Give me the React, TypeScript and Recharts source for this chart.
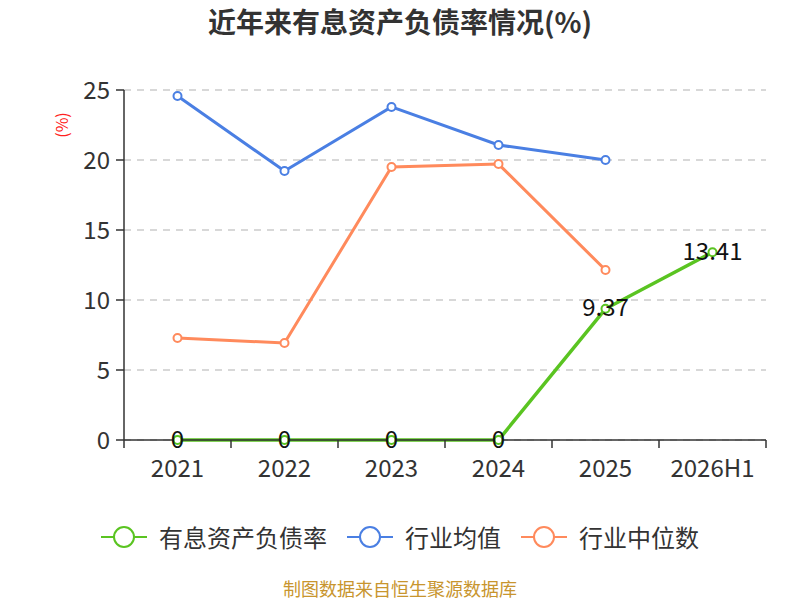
import React from "react";
import { LineChart, Line, XAxis, YAxis, CartesianGrid, LabelList } from "recharts";

const categories = ["2021", "2022", "2023", "2024", "2025", "2026H1"];
const debtRatio = [0, 0, 0, 0, 9.37, 13.41];
const industryAvg = [24.57, 19.21, 23.79, 21.07, 20.0, null];
const industryMedian = [7.29, 6.93, 19.5, 19.71, 12.14, null];
const yTicks = [0, 5, 10, 15, 20, 25];

const SERIES = [
  { key: "debt", label: "有息资产负债率", color: "#5ac421", width: 3.5 },
  { key: "avg", label: "行业均值", color: "#4a7fe3", width: 3 },
  { key: "median", label: "行业中位数", color: "#ff8a5c", width: 3 },
];

const FONT = '"Noto Sans CJK SC", "Noto Sans", sans-serif';
const W = 800;
const H = 600;
const MARGIN = { top: 90, right: 34, bottom: 100, left: 0 };
const Y_WIDTH = 124;
const X_HEIGHT = 60;
const HALF_BAND = (W - MARGIN.left - MARGIN.right - Y_WIDTH) / categories.length / 2;

const data = categories.map((c, i) => ({
  name: c,
  debt: debtRatio[i],
  avg: industryAvg[i],
  median: industryMedian[i],
}));

// category label in band centre, tick marks on band boundaries
const XTick = (props: any) => {
  const { x, y, payload, index } = props;
  return (
    <g>
      <line x1={x - HALF_BAND} y1={y} x2={x - HALF_BAND} y2={y + 8} stroke="#333" strokeWidth={1.5} />
      {index === categories.length - 1 && (
        <line x1={x + HALF_BAND} y1={y} x2={x + HALF_BAND} y2={y + 8} stroke="#333" strokeWidth={1.5} />
      )}
      <text
        x={x}
        y={y + 26}
        textAnchor="middle"
        dominantBaseline="central"
        fontSize={24}
        fill="#333"
        fontFamily={FONT}
      >
        {payload.value}
      </text>
    </g>
  );
};

const renderValueLabel = (props: any) => {
  const { x, y, value } = props;
  if (value === null || value === undefined) return null;
  return (
    <text
      x={x}
      y={y - 3}
      textAnchor="middle"
      dominantBaseline="central"
      fontSize={24}
      fill="#111"
      fontFamily={FONT}
    >
      {value}
    </text>
  );
};

function LegendRow() {
  return (
    <div
      style={{
        position: "absolute",
        top: 522,
        left: 0,
        width: W,
        display: "flex",
        justifyContent: "center",
        alignItems: "center",
        fontSize: 24,
        lineHeight: "30px",
        color: "#333",
      }}
    >
      {SERIES.map((s) => (
        <div key={s.key} style={{ display: "flex", alignItems: "center", margin: "0 10px" }}>
          <svg width={46} height={26} style={{ marginRight: 12 }}>
            <line x1={0} y1={13} x2={46} y2={13} stroke={s.color} strokeWidth={2} />
            <circle cx={23} cy={13} r={10} fill="#fff" stroke={s.color} strokeWidth={2} />
          </svg>
          <span>{s.label}</span>
        </div>
      ))}
    </div>
  );
}

export default function App() {
  return (
    <div
      style={{
        position: "absolute",
        left: 0,
        top: 0,
        width: W,
        height: H,
        background: "#fff",
        fontFamily: FONT,
        overflow: "hidden",
      }}
    >
      <div
        style={{
          position: "absolute",
          top: 3,
          width: W,
          textAlign: "center",
          fontSize: 28,
          lineHeight: "36px",
          fontWeight: "bold",
          color: "#333",
        }}
      >
        近年来有息资产负债率情况(%)
      </div>
      <div
        style={{
          position: "absolute",
          left: 48,
          top: 113,
          fontSize: 16,
          color: "#ff2020",
          transform: "rotate(-90deg)",
        }}
      >
        (%)
      </div>
      <LineChart width={W} height={H} data={data} margin={MARGIN}>
        <CartesianGrid vertical={false} stroke="#cccccc" strokeDasharray="7 6" strokeWidth={1.5} />
        <XAxis
          dataKey="name"
          scale="band"
          tick={<XTick />}
          tickLine={false}
          tickSize={0}
          tickMargin={0}
          axisLine={{ stroke: "#333", strokeWidth: 1.5 }}
          height={X_HEIGHT}
          interval={0}
        />
        <YAxis
          domain={[0, 25]}
          ticks={yTicks}
          width={Y_WIDTH}
          tick={{ fontSize: 24, fill: "#333", fontFamily: FONT }}
          tickLine={{ stroke: "#333", strokeWidth: 1.5 }}
          tickSize={8}
          tickMargin={6}
          axisLine={{ stroke: "#333", strokeWidth: 1.5 }}
        />
        {SERIES.map((s) => (
          <Line
            key={s.key}
            type="linear"
            dataKey={s.key}
            name={s.label}
            stroke={s.color}
            strokeWidth={s.width}
            dot={{ r: 4, fill: "#fff", stroke: s.color, strokeWidth: 2 }}
            activeDot={false}
            isAnimationActive={false}
          >
            {s.key === "debt" && <LabelList dataKey="debt" content={renderValueLabel} />}
          </Line>
        ))}
      </LineChart>
      <LegendRow />
      <div
        style={{
          position: "absolute",
          top: 577,
          width: W,
          textAlign: "center",
          fontSize: 18,
          lineHeight: "22px",
          color: "#c8952e",
        }}
      >
        制图数据来自恒生聚源数据库
      </div>
    </div>
  );
}
